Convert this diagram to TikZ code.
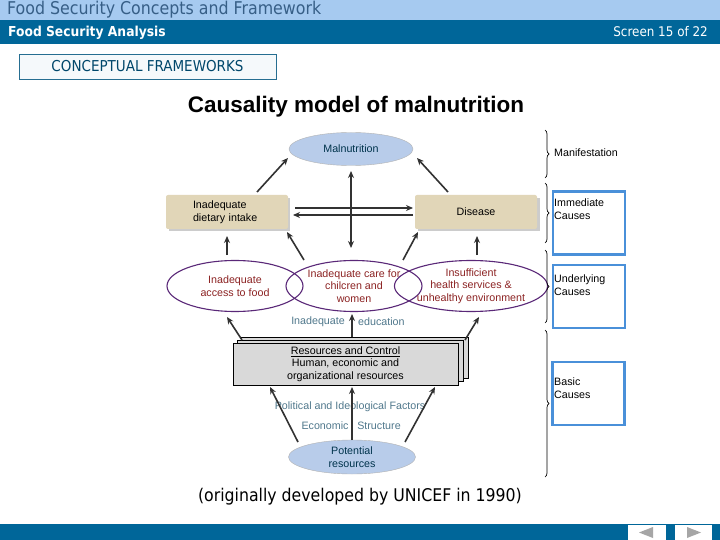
\documentclass[tikz,border=0pt]{standalone}
\usepackage{fontspec}
\setmainfont{Liberation Sans}
\newfontfamily\hdrfont{DejaVu Sans Condensed}
\usetikzlibrary{shapes.geometric,arrows.meta,decorations.pathreplacing}
\definecolor{lightbar}{RGB}{166,202,240}
\definecolor{darkbar}{RGB}{0,102,153}
\definecolor{hdrtext}{RGB}{55,95,135}
\definecolor{tanfill}{RGB}{225,214,184}
\definecolor{bluefill}{RGB}{184,204,234}
\definecolor{ellborder}{RGB}{90,40,120}
\definecolor{redtext}{RGB}{140,35,35}
\definecolor{tealtext}{RGB}{80,120,140}
\definecolor{boxblue}{RGB}{74,144,217}
\definecolor{arrowgray}{RGB}{50,50,50}
\tikzset{
  arr/.style={draw=arrowgray, line width=1.6pt, -{Stealth[length=7pt,width=6pt]}},
  darr/.style={draw=arrowgray, line width=1.6pt, {Stealth[length=7pt,width=6pt]}-{Stealth[length=7pt,width=6pt]}},
  tanbox/.style={draw=none, fill=tanfill, rounded corners=2pt, minimum width=122pt, minimum height=34pt, font=\fontsize{10.7}{12.5}\selectfont, align=left},
  blueell/.style={ellipse, fill=bluefill, draw=gray!60, minimum width=124pt, minimum height=33pt, inner sep=0pt, font=\fontsize{10.7}{12.5}\selectfont, text=darkbar!50!black, align=center},
  purpell/.style={ellipse, draw=ellborder, line width=1.1pt, minimum width=136pt, minimum height=51pt, inner sep=0pt, font=\fontsize{10.7}{12.5}\selectfont, text=redtext, align=center},
  tealtxt/.style={font=\fontsize{10.7}{12.5}\selectfont, text=tealtext, inner sep=1pt},
  causebox/.style={draw=boxblue, line width=2.5pt, minimum width=72pt, minimum height=63pt},
  causetxt/.style={font=\fontsize{10.7}{12.5}\selectfont, align=left, anchor=north west, inner sep=0pt},
  brc/.style={draw=black, line width=0.7pt, decorate, decoration={brace, amplitude=4pt}},
  navbtn/.style={fill=white, draw=none}
}
\begin{document}
\begin{tikzpicture}[x=1pt,y=-1pt]
\useasboundingbox (0,0) rectangle (720,540);
\fill[white] (0,0) rectangle (720,540);
% header bars
\fill[lightbar] (0,0) rectangle (720,20);
\fill[darkbar] (0,20) rectangle (720,44);
\node[anchor=west, inner sep=0pt, text=hdrtext, font=\hdrfont\fontsize{17.6}{20}\selectfont] (hdr1) at (7,9.5) {Food Security Concepts and Framework};
\node[anchor=west, inner sep=0pt, text=white, font=\hdrfont\bfseries\fontsize{13.7}{15}\selectfont] (hdr2) at (8,32.5) {Food Security Analysis};
\node[anchor=east, inner sep=0pt, text=white, font=\hdrfont\fontsize{13.3}{15}\selectfont] (scr) at (708,31.5) {Screen 15 of 22};
% section box
\node[draw=darkbar!70!gray, fill=darkbar!4, minimum width=257pt, minimum height=25pt, text=darkbar!70!black, font=\hdrfont\fontsize{15}{17}\selectfont, inner sep=0pt] (sect) at (147.5,66.5) {CONCEPTUAL FRAMEWORKS};
% title
\node[font=\bfseries\fontsize{22.5}{26}\selectfont] (title) at (356,107) {Causality model of malnutrition};
% nodes
\node[blueell] (maln) at (351,149) {Malnutrition};
\fill[gray!40] (169,198) rectangle (290,231);
\fill[gray!40] (418,198) rectangle (540,231);
\node[tanbox, text width=68pt] (diet) at (227,212) {Inadequate\\dietary intake};
\node[tanbox] (dis) at (476,212) {Disease};
\node[purpell] (food) at (235,286) {Inadequate\\access to food};
\node[purpell] (care) at (354,286) {Inadequate care for\\chilcren and\\women};
\node[purpell, minimum width=133pt] (health) at (471,286) {Insufficient\\health services \&\\unhealthy environment};
% resources stack
\draw[black, fill=gray!30] (241,337) rectangle (468,378);
\draw[black, fill=gray!30] (237,340) rectangle (463,381);
\node[draw=black, fill=gray!30, minimum width=225pt, minimum height=42pt, font=\fontsize{10.7}{12.5}\selectfont, align=center, inner sep=0pt] (res) at (345.5,364) {\underline{Resources and Control}\\Human, economic and\\organizational resources};
\node[blueell, minimum width=127pt, minimum height=34pt] (pot) at (352,457) {Potential\\resources};
% teal texts
\node[tealtxt, anchor=east] (ined1) at (346,322) {Inadequate};
\node[tealtxt, anchor=west] (ined2) at (357,322) {education};
\node[tealtxt] (pol) at (350,407) {Political and Ideological Factors};
% footnote
\node[font=\hdrfont\fontsize{17.5}{20}\selectfont] (foot) at (360,497) {(originally developed by UNICEF in 1990)};
% coordinates for arrows
\coordinate (a1s) at (257,192); \coordinate (a1e) at (288,158);
\coordinate (a2s) at (448,192); \coordinate (a2e) at (417,158);
\coordinate (h1s) at (295,208); \coordinate (h1e) at (413,208);
\coordinate (h2s) at (413,215); \coordinate (h2e) at (293,215);
\coordinate (vts) at (351,171); \coordinate (vte) at (351,248);
\coordinate (b1s) at (227,255); \coordinate (b1e) at (227,236);
\coordinate (b2s) at (304,260); \coordinate (b2e) at (287,232);
\coordinate (b3s) at (403,260); \coordinate (b3e) at (418,232);
\coordinate (b4s) at (477,255); \coordinate (b4e) at (477,236);
\coordinate (c1s) at (242,340); \coordinate (c1e) at (227,317);
\coordinate (c2s) at (352,337); \coordinate (c2e) at (352,314);
\coordinate (c3s) at (465,340); \coordinate (c3e) at (479,317);
\coordinate (d1s) at (298,442); \coordinate (d1e) at (270,387);
\coordinate (d2s) at (352,440); \coordinate (d2e) at (352,387);
\coordinate (d3s) at (405,442); \coordinate (d3e) at (435,387);
% arrows
\draw[arr] (a1s) -- (a1e);
\draw[arr] (a2s) -- (a2e);
\draw[arr] (h1s) -- (h1e);
\draw[arr] (h2s) -- (h2e);
\draw[darr] (vts) -- (vte);
\draw[arr] (b1s) -- (b1e);
\draw[arr] (b2s) -- (b2e);
\draw[arr] (b3s) -- (b3e);
\draw[arr] (b4s) -- (b4e);
\draw[arr] (c1s) -- (c1e);
\draw[arr] (c2s) -- (c2e);
\draw[arr] (c3s) -- (c3e);
\draw[arr] (d1s) -- (d1e);
\draw[arr] (d2s) -- (d2e);
\draw[arr] (d3s) -- (d3e);
\node[tealtxt] (ecoL) at (325,426) {Economic};
\node[tealtxt] (ecoR) at (379,426) {Structure};
% braces
\coordinate (br1a) at (545,130); \coordinate (br1b) at (545,178);
\coordinate (br2a) at (545,183); \coordinate (br2b) at (545,243);
\coordinate (br3a) at (545,250); \coordinate (br3b) at (545,323);
\coordinate (br4a) at (545,330); \coordinate (br4b) at (545,477);
\draw[brc] (br1a) -- (br1b);
\draw[brc] (br2a) -- (br2b);
\draw[brc] (br3a) -- (br3b);
\draw[brc] (br4a) -- (br4b);
\node[font=\fontsize{10.7}{12.5}\selectfont, anchor=west, inner sep=0pt] (man) at (554,153) {Manifestation};
\node[causebox] (imm) at (589,223) {};
\node[causebox] (und) at (589,296.5) {};
\node[causebox] (bas) at (588.5,393.5) {};
\node[causetxt] at (554,199) {Immediate\\Causes};
\node[causetxt] at (554,275) {Underlying\\Causes};
\node[causetxt] at (554,378) {Basic\\Causes};
% bottom bar
\fill[darkbar] (0,524) rectangle (720,540);
\node[navbtn, minimum width=38pt, minimum height=15pt, inner sep=0pt] (prev) at (647,532.5) {};
\node[navbtn, minimum width=37pt, minimum height=15pt, inner sep=0pt] (next) at (693.5,532.5) {};
\fill[gray!70] (639,532.5) -- (653,527) -- (653,538) -- cycle;
\fill[gray!70] (701,532.5) -- (687,527) -- (687,538) -- cycle;
\end{tikzpicture}
\end{document}
